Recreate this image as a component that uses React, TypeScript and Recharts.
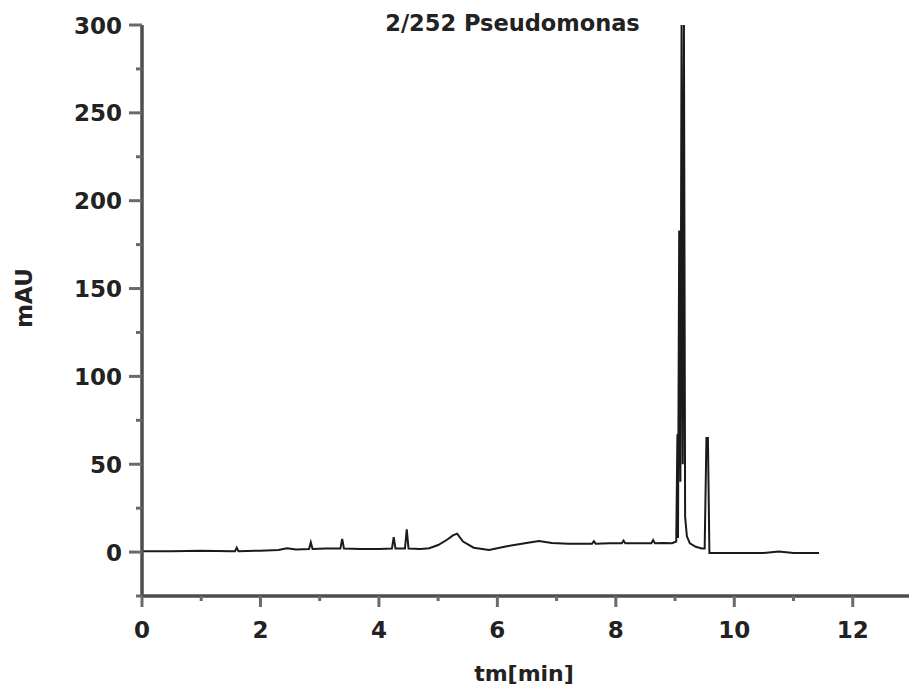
import React from 'react';
import { LineChart, Line, XAxis, YAxis, ReferenceLine } from 'recharts';

// retention time [min] and absorbance [mAU]
const times = [
  0, 0.5, 1.0, 1.5, 1.57, 1.6, 1.63, 2.0, 2.3, 2.45, 2.6, 2.82, 2.85, 2.88, 3.1, 3.35, 3.38, 3.41,
  3.7, 4.0, 4.22, 4.25, 4.28, 4.44, 4.47, 4.5, 4.7, 4.85, 5.0, 5.15, 5.25, 5.32, 5.42, 5.6, 5.86, 6.14,
  6.36, 6.7, 6.92, 7.2, 7.5, 7.6, 7.63, 7.66, 7.9, 8.1, 8.13, 8.16, 8.4, 8.6, 8.63, 8.66, 8.8,
  8.95, 9.02, 9.04, 9.05, 9.07, 9.09, 9.11, 9.13, 9.15, 9.17, 9.2, 9.25, 9.35, 9.45, 9.5, 9.53,
  9.555, 9.58, 10.0, 10.5, 10.75, 11.0, 11.43,
];
const absorbance = [
  0.5, 0.5, 0.8, 0.5, 0.5, 2.5, 0.5, 0.8, 1.2, 2.2, 1.5, 1.8, 5.5, 1.8, 2, 2, 7.5, 2,
  1.8, 1.8, 2, 8.5, 2, 2, 13, 2, 1.8, 2.2, 4, 7, 9.5, 10.5, 6, 2.5, 1.2, 3.2,
  4.5, 6.3, 5.2, 4.8, 4.8, 4.8, 6.2, 4.8, 5, 5, 6.5, 5, 5, 5, 6.8, 5, 5.2,
  5, 6, 67, 8, 183, 40, 300, 50, 300, 20, 9, 5, 3, 2, 2, 65,
  65, -0.5, -0.5, -0.5, 0.3, -0.5, -0.5,
];

const xTicks = [0, 1, 2, 3, 4, 5, 6, 7, 8, 9, 10, 11, 12];
const yTicks = [-25, 0, 25, 50, 75, 100, 125, 150, 175, 200, 225, 250, 275, 300];

const data = times.map((t, i) => ({ t, v: absorbance[i] }));

const font = '"DejaVu Sans", sans-serif';
const axisColor = '#4d4d4d';

function XTick(props: any) {
  const { x, y, payload } = props;
  const major = payload.value % 2 === 0;
  return (
    <g>
      <line x1={x} x2={x} y1={y} y2={y + (major ? 11 : 5)} stroke="#6a6a6a" strokeWidth={3} />
      {major && (
        <text x={x} y={y + 42} textAnchor="middle" fontFamily={font} fontWeight="bold" fontSize={23} fill="#222">
          {payload.value}
        </text>
      )}
    </g>
  );
}

function YTick(props: any) {
  const { x, y, payload } = props;
  const major = payload.value % 50 === 0;
  return (
    <g>
      <line x1={x - (major ? 13 : 6)} x2={x} y1={y} y2={y} stroke="#6a6a6a" strokeWidth={3} />
      {major && (
        <text x={x - 20} y={y + 8.5} textAnchor="end" fontFamily={font} fontWeight="bold" fontSize={23} fill="#222">
          {payload.value}
        </text>
      )}
    </g>
  );
}

export default function App() {
  return (
    <div style={{ position: 'absolute', left: 0, top: 0, width: 909, height: 694, background: '#fff' }}>
      <LineChart width={909} height={694} data={data} margin={{ top: 25, right: 0, bottom: 0, left: 0 }}>
        <XAxis
          dataKey="t"
          type="number"
          domain={[0, 12.95]}
          ticks={xTicks}
          allowDataOverflow
          height={98}
          tickSize={0}
          tickMargin={0}
          tickLine={false}
          tick={<XTick />}
          axisLine={false}
          interval={0}
        />
        <YAxis
          type="number"
          domain={[-25, 300]}
          ticks={yTicks}
          allowDataOverflow
          width={142}
          tickSize={0}
          tickMargin={0}
          tickLine={false}
          tick={<YTick />}
          axisLine={false}
          interval={0}
        />
        <Line
          type="linear"
          dataKey="v"
          stroke="#1a1a1a"
          strokeWidth={2}
          dot={false}
          isAnimationActive={false}
        />
        <ReferenceLine x={0} stroke={axisColor} strokeWidth={3.5} ifOverflow="visible" />
        <ReferenceLine y={-25} stroke={axisColor} strokeWidth={3.5} ifOverflow="visible" />
      </LineChart>
      <div
        style={{
          position: 'absolute', left: 0, width: 1025, top: 12, textAlign: 'center',
          fontFamily: font, fontWeight: 'bold', fontSize: 22.5, lineHeight: 1, color: '#222',
        }}
      >
        2/252 Pseudomonas
      </div>
      <div
        style={{
          position: 'absolute', left: 0, width: 1048, top: 663, textAlign: 'center',
          fontFamily: font, fontWeight: 'bold', fontSize: 22, lineHeight: 1, color: '#222',
        }}
      >
        tm[min]
      </div>
      <div
        style={{
          position: 'absolute', left: 24, top: 298, transform: 'translate(-50%, -50%) rotate(-90deg)',
          fontFamily: font, fontWeight: 'bold', fontSize: 23, lineHeight: 1, color: '#222', whiteSpace: 'nowrap',
        }}
      >
        mAU
      </div>
    </div>
  );
}
